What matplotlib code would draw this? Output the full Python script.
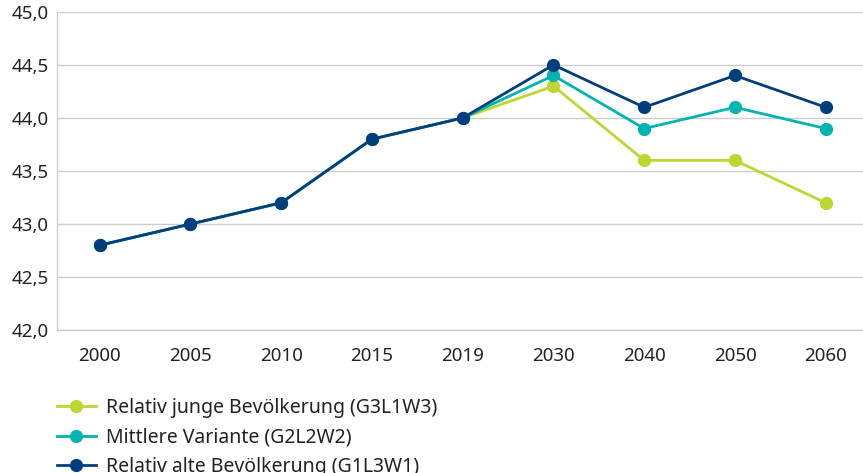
import matplotlib
matplotlib.use('Agg')
import matplotlib.pyplot as plt

years = ["2000", "2005", "2010", "2015", "2019", "2030", "2040", "2050", "2060"]
junge = [42.8, 43.0, 43.2, 43.8, 44.0, 44.3, 43.6, 43.6, 43.2]
mittlere = [42.8, 43.0, 43.2, 43.8, 44.0, 44.4, 43.9, 44.1, 43.9]
alte = [42.8, 43.0, 43.2, 43.8, 44.0, 44.5, 44.1, 44.4, 44.1]

series = [("Relativ junge Bevölkerung (G3L1W3)", junge, "#bed62f"),
          ("Mittlere Variante (G2L2W2)", mittlere, "#00b4b0"),
          ("Relativ alte Bevölkerung (G1L3W1)", alte, "#003e7e")]

plt.rcParams['font.family'] = ['Noto Sans', 'DejaVu Sans']

fig = plt.figure(figsize=(8.63, 4.73), dpi=100)
ax = fig.add_axes([0.066, 0.302, 0.934, 0.673])

x = range(len(years))
for label, values, colour in series:
    ax.plot(x, values, color=colour, lw=2.0, marker='o', markersize=8.5,
            label=label, clip_on=False)

ax.set_ylim(42.0, 45.0)
ax.set_xlim(-0.47, 8.41)
ax.set_yticks([42.0, 42.5, 43.0, 43.5, 44.0, 44.5, 45.0])
ax.set_yticklabels([f"{v:.1f}".replace('.', ',') for v in ax.get_yticks()])
ax.set_xticks(list(x))
ax.set_xticklabels(years)
ax.tick_params(length=0, labelsize=13.5, colors='#222222')
ax.tick_params(axis='x', pad=12)
ax.tick_params(axis='y', pad=6)

# Grid and frame
ax.grid(axis='y', color='#cccccc', lw=1.0)
ax.set_axisbelow(True)
for side in ["top", "right"]:
    ax.spines[side].set_visible(False)
for side in ["left", "bottom"]:
    ax.spines[side].set_color('#cccccc')
    ax.spines[side].set_linewidth(1.0)

leg = fig.legend(loc='upper left', bbox_to_anchor=(0.066, 0.159), frameon=False,
                 fontsize=14, handlelength=2.0, handletextpad=0.5,
                 labelspacing=0.5, borderaxespad=0, borderpad=0)
for text in leg.get_texts():
    text.set_color('#222222')

plt.savefig("out.png", dpi=100)
